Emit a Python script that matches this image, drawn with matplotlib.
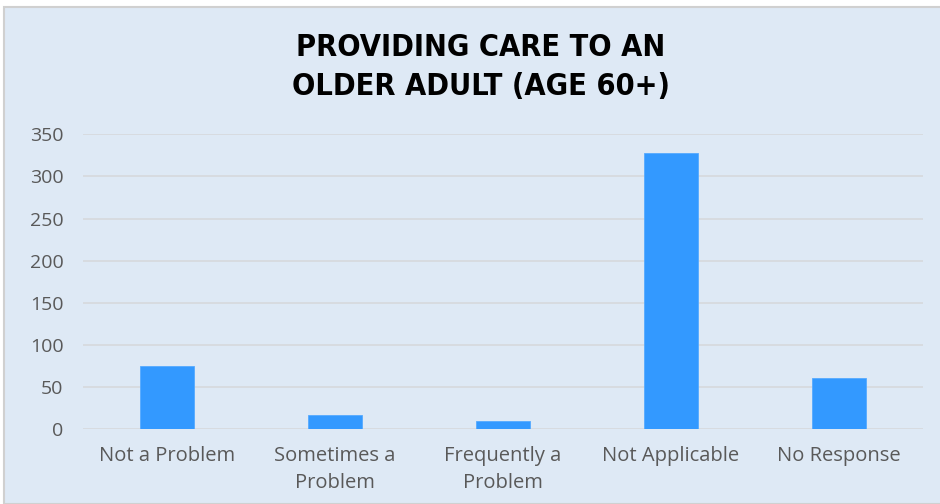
import matplotlib
matplotlib.use("Agg")
import matplotlib.pyplot as plt
from matplotlib.patches import Rectangle

# ─── Data ─────────────────────────────────────────────────────────────────────
categories = ["Not a Problem", "Sometimes a\nProblem", "Frequently a\nProblem",
              "Not Applicable", "No Response"]
counts = [75, 17, 10, 328, 61]
y_ticks = [0, 50, 100, 150, 200, 250, 300, 350]

# ─── Style ────────────────────────────────────────────────────────────────────
BG = "#dee9f5"
BAR = "#3399ff"
GRID = "#d6d9dc"
TEXT = "#595959"

fig = plt.figure(figsize=(9.4, 5.04), dpi=100, facecolor="white")
# light chart frame with thin grey edge
fig.patches.append(Rectangle((4 / 940, 0), 1, 1 - 7 / 504, transform=fig.transFigure,
                             facecolor=BG, edgecolor="#d0d0d0", lw=1.5, zorder=-1))

ax = fig.add_axes([83 / 940, (504 - 429.3) / 504, 840 / 940, 295 / 504])
ax.set_facecolor(BG)

x = range(len(categories))
ax.bar(x, counts, width=0.316, color=BAR, edgecolor="#55aaff", lw=0.6, zorder=3)

ax.set_xlim(-0.5, len(categories) - 0.5)
ax.set_ylim(0, 350)
ax.set_yticks(y_ticks)
ax.yaxis.grid(True, color=GRID, lw=1.2, zorder=0)
for s in ax.spines.values():
    s.set_visible(False)
ax.tick_params(length=0)
ax.tick_params(axis="y", pad=14, labelsize=14, labelcolor=TEXT)
ax.tick_params(axis="x", pad=12, labelsize=14.5, labelcolor=TEXT)
ax.set_xticks(list(x))
ax.set_xticklabels(categories, linespacing=1.45)
for lbl in ax.get_xticklabels() + ax.get_yticklabels():
    lbl.set_family("Open Sans")

fig.text(481 / 940, 1 - 67 / 504, "PROVIDING CARE TO AN\nOLDER ADULT (AGE 60+)",
         ha="center", va="center", fontsize=22, fontweight="bold", color="black",
         family="DejaVu Sans", fontstretch="condensed", linespacing=1.4)

fig.savefig("out.png", dpi=100, facecolor="white")
